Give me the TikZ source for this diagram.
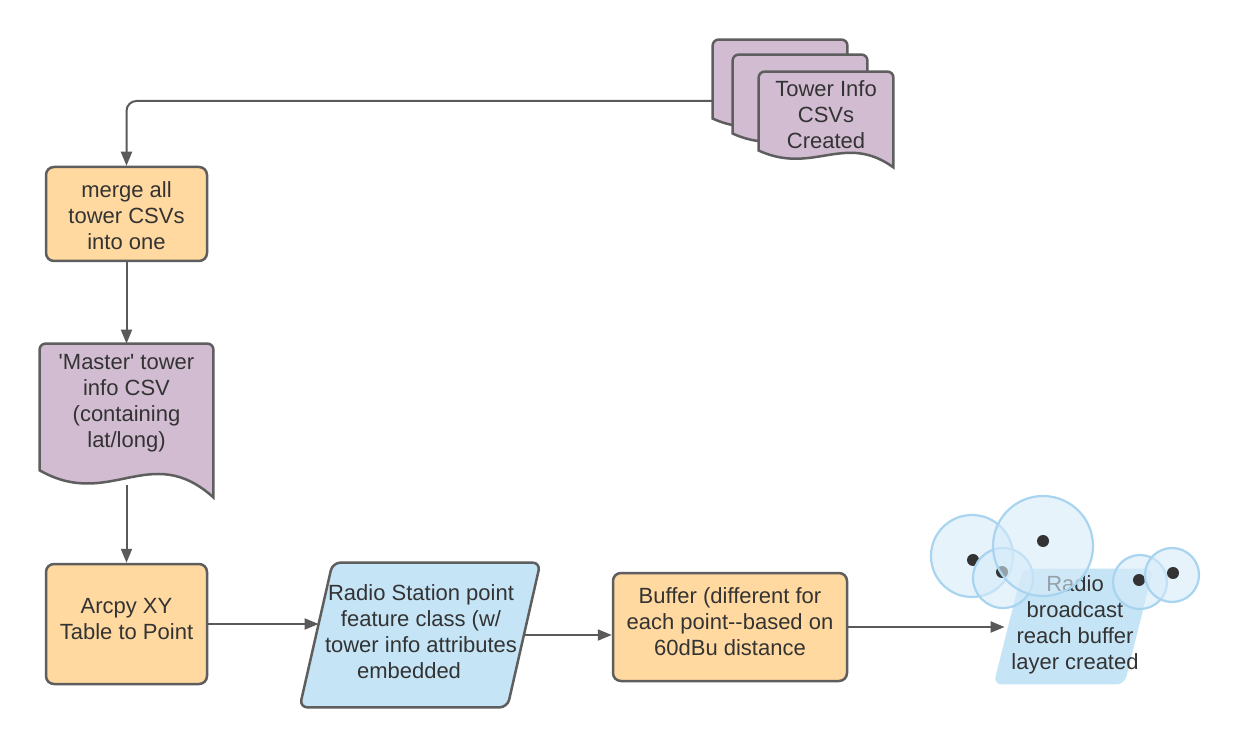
\documentclass[tikz,border=0pt]{standalone}
\usepackage{fontspec}
\setmainfont{Liberation Sans}
\usetikzlibrary{arrows.meta,calc}

\definecolor{boxorange}{RGB}{255,217,160}
\definecolor{docpurple}{RGB}{210,188,210}
\definecolor{iofill}{RGB}{197,228,246}
\definecolor{edgegray}{RGB}{94,94,94}
\definecolor{linegray}{RGB}{90,90,90}
\definecolor{txtgray}{RGB}{51,51,51}
\definecolor{ringblue}{RGB}{168,212,240}
\definecolor{discblue}{RGB}{214,235,249}

% document outline drawn round an empty node
\newcommand{\docshape}[1]{%
  \draw[docline] let \p1=(#1.south west), \p2=(#1.north east),
    \n1={\x2-\x1}, \n2={\y2-\y1} in
    (\x1,\y1+0.176*\n2) [rounded corners=3pt] -- (\x1,\y2) -- (\x2,\y2)
    [sharp corners] -- (\x2,\y1)
    .. controls (\x1+0.636*\n1,\y1+0.37*\n2) and (\x1+0.405*\n1,\y1-0.085*\n2) .. (\x1,\y1+0.176*\n2)
    -- cycle;}

% slanted data box drawn round an empty node
\newcommand{\ioshape}[3]{%
  \draw[#3] let \p1=(#1.south west), \p2=(#1.north east) in
    [rounded corners=4pt] (\x1,\y1) -- (\x1+#2,\y2) -- (\x2,\y2) -- (\x2-#2,\y1) -- cycle;}

\begin{document}
\begin{tikzpicture}[
        x=0.5pt, y=-0.5pt,
        txt/.style={font=\fontsize{11}{13}\selectfont, text=txtgray, align=center, inner sep=0pt},
        process/.style={rectangle, draw=edgegray, fill=boxorange, line width=1.25pt, rounded corners=4pt},
        emptybox/.style={rectangle, inner sep=0pt},
        docline/.style={draw=edgegray, fill=docpurple, line width=1.25pt},
        ioline/.style={draw=edgegray, fill=iofill, line width=1.25pt},
        flow/.style={-{Triangle[length=7pt,width=5.5pt]}, draw=linegray, line width=1pt},
        ring/.style={draw=ringblue, fill=discblue, fill opacity=0.6, line width=1.1pt},
        dot/.style={fill=txtgray}
    ]

        % Page
        \fill[white] (0,0) rectangle (1240,747);
        \useasboundingbox (0,0) rectangle (1240,747);

        % Tower info CSV stack
        \node[emptybox, minimum width=67pt, minimum height=47.5pt] (towerback) at (780,87.5) {};
        \node[emptybox, minimum width=67pt, minimum height=47.5pt] (towermid) at (800,102.5) {};
        \node[emptybox, minimum width=67pt, minimum height=47.5pt] (towerfront) at (826,119.5) {};
        \docshape{towerback}
        \docshape{towermid}
        \docshape{towerfront}
        \node[txt] (towertext) at (826,114.5) {Tower Info\\CSVs\\Created};

        % Merge step
        \node[process, minimum width=80.5pt, minimum height=47pt] (merge) at (126.5,214) {};
        \node[txt] (mergetext) at (126.5,215.5) {merge all\\tower CSVs\\into one};

        % Master CSV
        \node[emptybox, minimum width=86.5pt, minimum height=76.5pt] (master) at (126.5,420.5) {};
        \docshape{master}
        \node[txt] (mastertext) at (126.5,403.5) {\textquotesingle Master\textquotesingle\ tower\\info CSV\\(containing\\lat/long)};

        % XY Table to Point
        \node[process, minimum width=80.5pt, minimum height=60pt] (arcpy) at (126.5,624) {};
        \node[txt] (arcpytext) at (126.5,619.5) {Arcpy XY\\Table to Point};

        % Point feature class
        \node[emptybox, minimum width=120pt, minimum height=72pt] (radio) at (420,635) {};
        \ioshape{radio}{16.5pt}{ioline}
        \node[txt] (radiotext) at (421,632) {Radio Station point\\feature class (w/\\tower info attributes\\embedded\hspace*{12pt}};
        \coordinate (radioin) at ([xshift=9.5pt]radio.west);
        \coordinate (radioout) at ([xshift=-8.25pt]radio.east);

        % Buffer step
        \node[process, minimum width=117pt, minimum height=54pt] (buffer) at (730,627) {};
        \node[txt] (buffertext) at (730,622) {Buffer (different for\\each point-{}-based on\\60dBu distance};

        % Buffer layer
        \node[emptybox, minimum width=79.5pt, minimum height=57.5pt] (reach) at (1073.5,626.5) {};
        \ioshape{reach}{14.5pt}{draw=none, fill=iofill}
        \node[txt] (reachtext) at (1075,624.5) {Radio\\broadcast\\reach buffer\\layer created};
        \coordinate (reachin) at ([xshift=5.5pt]reach.west);

        % Buffer rings
        \foreach \cx/\cy/\r/\dx/\dy in {972/556/41/973/560, 1003/578/30/1002/572, 1043/546/50/1043/541, 1140/582/27/1139/580, 1172/575/27/1173/573} {
            \draw[ring] (\cx,\cy) circle[radius={\r*0.5pt}];
            \fill[dot] (\dx,\dy) circle[radius=3pt];
        }

        % Arrows
        \draw[flow, rounded corners=5pt] ([yshift=-6.75pt]towerback.west) -| (merge.north);
        \draw[flow] (merge.south) -- (master.north);
        \draw[flow] ([yshift=6pt]master.south) -- (arcpy.north);
        \draw[flow] (arcpy.east) -- (arcpy.east -| radioin);
        \draw[flow] (radioout) -- (radioout -| buffer.west);
        \draw[flow] (buffer.east) -- (buffer.east -| reachin);

    \end{tikzpicture}
\end{document}
